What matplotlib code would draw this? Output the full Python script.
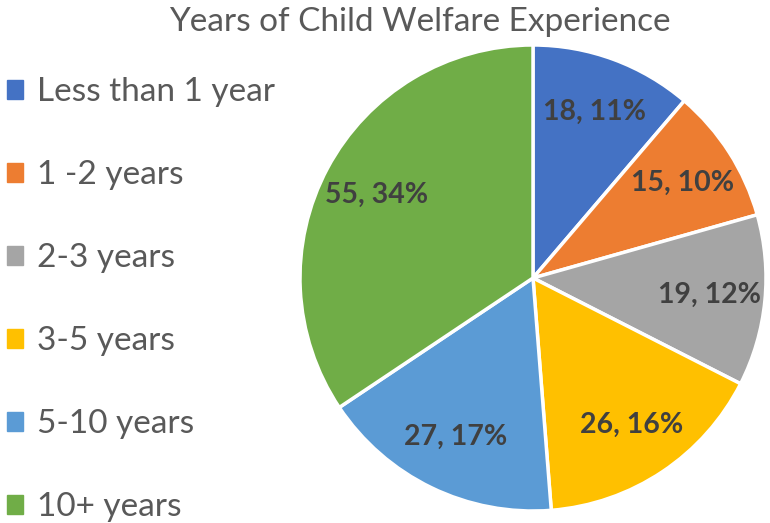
import matplotlib
matplotlib.use("Agg")
import matplotlib.pyplot as plt
from matplotlib.patches import Patch
import numpy as np

categories = ["Less than 1 year", "1 -2 years", "2-3 years", "3-5 years", "5-10 years", "10+ years"]
counts = [18, 15, 19, 26, 27, 55]
percents = [11, 10, 12, 16, 17, 34]
colors = ["#4472C4", "#ED7D31", "#A5A5A5", "#FFC000", "#5B9BD5", "#70AD47"]
title = "Years of Child Welfare Experience"

plt.rcParams['font.family'] = ['Lato', 'DejaVu Sans']

fig = plt.figure(figsize=(7.7, 5.23), dpi=100)
cx, cy, r = 533 / 770, (523 - 278) / 523, 233
ax = fig.add_axes([cx - r / 770, cy - r / 523, 2 * r / 770, 2 * r / 523])

wedges, _ = ax.pie(counts, colors=colors, startangle=90, counterclock=False,
                   wedgeprops=dict(edgecolor="white", linewidth=2.5), radius=1)
for w, c, p in zip(wedges, counts, percents):
    ang = np.deg2rad((w.theta1 + w.theta2) / 2)
    d = 0.76
    ax.text(d * np.cos(ang), d * np.sin(ang), f"{c}, {p}%", ha="center", va="center",
            fontsize=20.5, fontweight="bold", color="#404040")
ax.set_xlim(-1, 1)
ax.set_ylim(-1, 1)
ax.set_aspect("equal")
ax.axis("off")

fig.text(0.545, 0.958, title, ha="center", va="center", fontsize=24, color="#595959")

handles = [Patch(facecolor=c, edgecolor=c) for c in colors]
leg = fig.legend(handles, categories, loc="upper left", bbox_to_anchor=(0.0, 0.865),
                 frameon=False, fontsize=24, labelcolor="#595959",
                 handlelength=0.5, handleheight=0.5, handletextpad=0.4,
                 labelspacing=1.59, borderaxespad=0, borderpad=0.2)

fig.savefig("out.png", dpi=100, facecolor="white")
